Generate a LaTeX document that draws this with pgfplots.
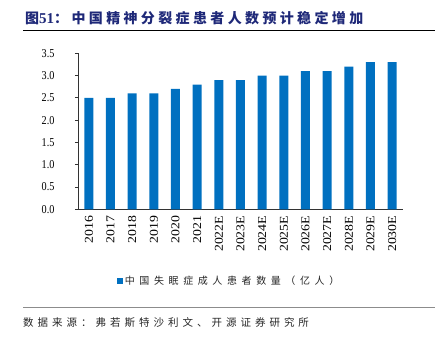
\documentclass[border=0pt]{standalone}
\usepackage{pgfplots}
\pgfplotsset{compat=1.18}
\usepackage{fontspec}
\setmainfont{Liberation Serif}
\newfontfamily\cjktitle{Noto Sans CJK SC}[LetterSpace=24]
\newfontfamily\cjklegend{Noto Sans CJK SC}[LetterSpace=46]
\newfontfamily\cjksrc{Noto Sans CJK SC}[LetterSpace=38]
\newfontfamily\xlab{Liberation Serif}[FakeStretch=1.15]
\newfontfamily\ylab{Liberation Serif}[FakeStretch=0.85]
\definecolor{barblue}{HTML}{0070C0}
\definecolor{titleblue}{RGB}{30,40,120}
\begin{document}
\begin{tikzpicture}
\path[use as bounding box] (0pt,0pt) rectangle (440pt,-343pt);
\node[anchor=west,inner sep=0pt,text=titleblue] at (25pt,-18pt)
  {\fontsize{14pt}{14pt}\cjktitle\bfseries 图{\rmfamily\bfseries\fontsize{15pt}{15pt}\selectfont 51}：中国精神分裂症患者人数预计稳定增加};
\draw[line width=1.5pt,black] (23pt,-30.5pt) -- (435pt,-30.5pt);
\draw[line width=1.3pt,black!45] (23pt,-307.3pt) -- (435pt,-307.3pt);
\node[anchor=west,inner sep=0pt,text=black!85] at (23pt,-322.7pt)
  {\fontsize{10.5pt}{10.5pt}\cjksrc 数据来源：弗若斯特沙利文、开源证券研究所};
\begin{axis}[
  at={(78pt,-209.3pt)}, anchor=south west,
  scale only axis, width=325pt, height=156pt,
  xmin=-0.5, xmax=14.5, ymin=0, ymax=3.5,
  axis x line*=bottom, axis y line*=left,
  axis line style={draw=black!80, line width=0.8pt},
  tick align=outside, major tick length=3pt,
  ytick={0,0.5,...,3.5},
  ytick style={draw=black!80, line width=0.8pt},
  yticklabel style={/pgf/number format/fixed,/pgf/number format/fixed zerofill,/pgf/number format/precision=1,
    font=\fontsize{12pt}{12pt}\ylab, xshift=-17pt},
  /pgf/number format/assume math mode=true,
  xtick={0,...,14},
  xticklabels={2016,2017,2018,2019,2020,2021,2022E,2023E,2024E,2025E,2026E,2027E,2028E,2029E,2030E},
  major x tick style={draw=none},
  xticklabel style={rotate=90, anchor=east, font=\fontsize{12pt}{12pt}\xlab, yshift=0pt},
  extra x ticks={-0.5,0.5,...,14.5},
  extra x tick labels={},
  extra x tick style={major tick length=4pt, tick style={draw=black!80, line width=0.8pt}},
  legend style={at={(0.119,-0.458)}, anchor=west, draw=none, fill=none, inner sep=0pt,
    font=\fontsize{10pt}{10pt}\cjklegend, text=black!85},
  legend image code/.code={\fill[barblue] (0pt,-3pt) rectangle (6pt,3pt);},
]
\addplot[ybar, bar width=9pt, fill=barblue, draw=none] coordinates {
(0,2.5) (1,2.5) (2,2.6) (3,2.6) (4,2.7) (5,2.8) (6,2.9) (7,2.9) (8,3.0) (9,3.0) (10,3.1) (11,3.1) (12,3.2) (13,3.3) (14,3.3)};
\addlegendentry{中国失眠症成人患者数量（亿人）}
\end{axis}
\end{tikzpicture}
\end{document}
